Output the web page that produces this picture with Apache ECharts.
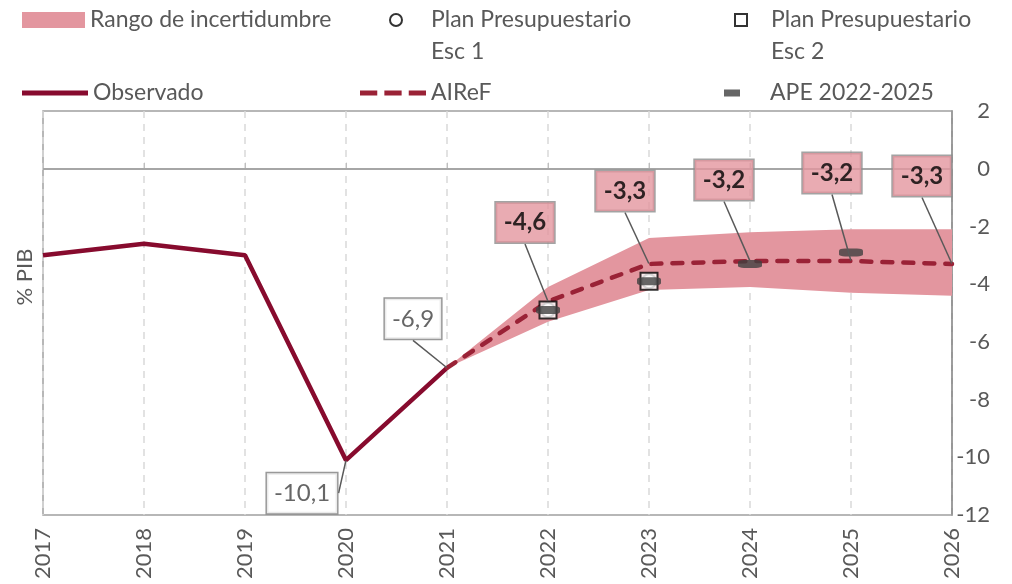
<!DOCTYPE html>
<html>
<head>
<meta charset="utf-8">
<script src="https://cdn.jsdelivr.net/npm/echarts@6/dist/echarts.min.js"></script>
<style>
  html, body { margin: 0; padding: 0; background: #fff; }
  #chart { width: 1012px; height: 584px; }
</style>
</head>
<body>
<div id="chart"></div>
<script>
// datos (% PIB)
const years = ['2017', '2018', '2019', '2020', '2021', '2022', '2023', '2024', '2025', '2026'];
const observado = [-3.0, -2.6, -3.0, -10.1, -6.9, null, null, null, null, null];
const airef = [null, null, null, null, -6.9, -4.6, -3.3, -3.2, -3.2, -3.3];
const rangoInferior = [null, null, null, null, -6.9, -5.3, -4.2, -4.1, -4.3, -4.4];
const rangoSuperior = [null, null, null, null, -6.9, -4.1, -2.4, -2.2, -2.1, -2.1];
const planEsc1 = [null, null, null, null, null, -4.9, -3.9, null, null, null];
const planEsc2 = [null, null, null, null, null, -4.9, -3.9, null, null, null];
const ape = [null, null, null, null, null, -4.9, -3.9, -3.3, -2.9, null];
// qué años llevan etiqueta
const etiquetasAiref = ['2022', '2023', '2024', '2025', '2026'];
const etiquetasObs = ['2020', '2021'];
const yMin = -12, yMax = 2, yStep = 2;

const FONT = 'Lato, "Liberation Sans", sans-serif';
const GRIS = '#595959';

const toData = arr => arr.map(v => (v === null ? '-' : v));
const pick = (arr, keep) => years.map((y, i) => (keep.indexOf(y) >= 0 && arr[i] !== null ? arr[i] : '-'));
const coma = p => Number(p.value).toFixed(1).replace('.', ',');

// desplazamiento de cada caja respecto a su punto
const offAiref = { '2022': [-23, -79], '2023': [-24, -73], '2024': [-26, -81], '2025': [-19, -88], '2026': [-30, -88] };
const offObs = { '2020': [-44, 33], '2021': [-34, -49] };

const legendText = { color: GRIS, fontSize: 23, fontFamily: FONT, lineHeight: 30 };
const legendText2 = { color: GRIS, fontSize: 23, fontFamily: FONT, lineHeight: 32 };
// "Plan Presupuestario Esc 1" -> línea vacía + dos líneas, para que el icono quede en la primera
const dosLineas = name => '\n' + name.replace(' Esc', '\nEsc');

let myChart = echarts.init(document.getElementById('chart'));
let option = {
  animation: false,
  textStyle: { fontFamily: FONT },
  legend: [
    { data: [{ name: 'Rango de incertidumbre', icon: 'rect' }], left: 22, top: 5, padding: 0,
      itemWidth: 63, itemHeight: 16, textStyle: legendText },
    { data: ['Plan Presupuestario Esc 1'], left: 389, top: -28, padding: 0, formatter: dosLineas,
      itemWidth: 60, itemHeight: 12, textStyle: legendText2 },
    { data: [{ name: 'Plan Presupuestario Esc 2', icon: 'path://M0,0h10v10h-10z' }], left: 734, top: -28, padding: 0,
      formatter: dosLineas, itemWidth: 50, itemHeight: 12, textStyle: legendText2 },
    { data: [{ name: 'Observado', icon: 'path://M0,0h66v5h-66z' }], left: 22, top: 78, padding: 0,
      itemWidth: 66, itemHeight: 14, textStyle: legendText },
    { data: [{ name: 'AIReF', icon: 'path://M0,0h17v5h-17z M24,0h17v5h-17z M48,0h17v5h-17z' }], left: 360, top: 78, padding: 0,
      itemWidth: 66, itemHeight: 14, textStyle: legendText },
    { data: [{ name: 'APE 2022-2025', icon: 'path://M0,0h16v7h-16z' }], left: 724, top: 78, padding: 0,
      itemWidth: 66, itemHeight: 7, textStyle: legendText }
  ],
  grid: {
    left: 43, right: 60, top: 111, bottom: 69,
    outerBoundsMode: 'none',
    show: true, borderColor: '#a0a0a0', borderWidth: 1.5
  },
  graphic: [
    { type: 'text', x: 25, y: 277, rotation: Math.PI / 2,
      style: { text: '% PIB', fill: GRIS, font: '22px ' + FONT, align: 'center', verticalAlign: 'middle' } }
  ],
  xAxis: {
    type: 'category',
    data: years,
    boundaryGap: false,
    axisLine: { show: false },
    axisTick: { show: true, inside: true, length: 6, lineStyle: { color: '#bfbfbf' } },
    axisLabel: { rotate: 90, color: GRIS, fontSize: 22, margin: 13, fontFamily: FONT },
    splitLine: { show: true, lineStyle: { color: '#d9d9d9', width: 1.5, type: [7, 6] } }
  },
  yAxis: {
    type: 'value',
    position: 'right',
    min: yMin, max: yMax, interval: yStep,
    axisLine: { show: true, lineStyle: { color: '#8c8c8c', width: 1.5 } },
    axisTick: { show: false },
    splitLine: { show: false },
    axisLabel: { color: GRIS, fontSize: 22, align: 'right', margin: 38, fontFamily: FONT }
  },
  series: [
    {
      name: 'rangoBase', type: 'line', data: toData(rangoInferior),
      stack: 'rango', stackStrategy: 'all', symbol: 'none',
      lineStyle: { width: 0, opacity: 0 }, silent: true, z: 1,
      markLine: {
        silent: true, symbol: 'none', label: { show: false },
        lineStyle: { color: '#a6a6a6', width: 2, type: 'solid' },
        data: [{ yAxis: 0 }]
      }
    },
    {
      name: 'Rango de incertidumbre', type: 'line', color: '#e3969f',
      data: rangoSuperior.map((v, i) => (v === null ? '-' : +(v - rangoInferior[i]).toFixed(2))),
      stack: 'rango', stackStrategy: 'all', symbol: 'none',
      lineStyle: { width: 0 }, areaStyle: { color: '#e3969f', opacity: 1 }, z: 1
    },
    {
      name: 'Observado', type: 'line', color: '#870b2e', data: toData(observado),
      symbol: 'none', lineStyle: { width: 4.5, color: '#870b2e' }, z: 3
    },
    {
      name: 'AIReF', type: 'line', color: '#9a2236', data: toData(airef),
      symbol: 'none', lineStyle: { width: 4.5, color: '#9a2236', type: [10, 11], cap: 'round' }, z: 3
    },
    {
      name: 'Plan Presupuestario Esc 1', type: 'scatter', data: toData(planEsc1),
      symbol: 'circle', symbolSize: 14,
      itemStyle: { color: '#fff', borderColor: '#000', borderWidth: 2 }, z: 4
    },
    {
      name: 'Plan Presupuestario Esc 2', type: 'scatter', data: toData(planEsc2),
      symbol: 'rect', symbolSize: 17,
      itemStyle: { color: '#fff', borderColor: '#000', borderWidth: 2 }, z: 5
    },
    {
      name: 'APE 2022-2025', type: 'scatter', data: toData(ape),
      symbol: 'roundRect', symbolSize: [24, 8],
      itemStyle: { color: '#404040' }, z: 6
    },
    {
      // cajas rosas con el valor AIReF
      name: 'etiquetasAiref', type: 'scatter', data: pick(airef, etiquetasAiref),
      symbolSize: 1, itemStyle: { color: 'transparent' }, silent: true, z: 10,
      label: {
        show: true, position: 'inside', formatter: coma,
        color: '#000', fontWeight: 'bold', fontSize: 24, fontFamily: FONT, lineHeight: 28,
        backgroundColor: '#e3969f', borderColor: '#8c8c8c', borderWidth: 1.5, padding: [6, 8]
      },
      labelLine: { show: true, lineStyle: { color: GRIS, width: 1.5 } },
      labelLayout: function(p) {
        let o = offAiref[years[p.dataIndex]];
        return o ? { dx: o[0], dy: o[1] } : {};
      }
    },
    {
      // cajas blancas de los valores observados
      name: 'etiquetasObs', type: 'scatter', data: pick(observado, etiquetasObs),
      symbolSize: 1, itemStyle: { color: 'transparent' }, silent: true, z: 10,
      label: {
        show: true, position: 'inside', formatter: coma,
        color: '#404040', fontSize: 24, fontFamily: FONT, lineHeight: 28,
        backgroundColor: '#fff', borderColor: '#7f7f7f', borderWidth: 1.5, padding: [6, 7]
      },
      labelLine: { show: true, lineStyle: { color: GRIS, width: 1.5 } },
      labelLayout: function(p) {
        let o = offObs[years[p.dataIndex]];
        return o ? { dx: o[0], dy: o[1] } : {};
      }
    }
  ]
};
window.onresize = myChart.resize;
myChart.setOption(option);
</script>
</body>
</html>
